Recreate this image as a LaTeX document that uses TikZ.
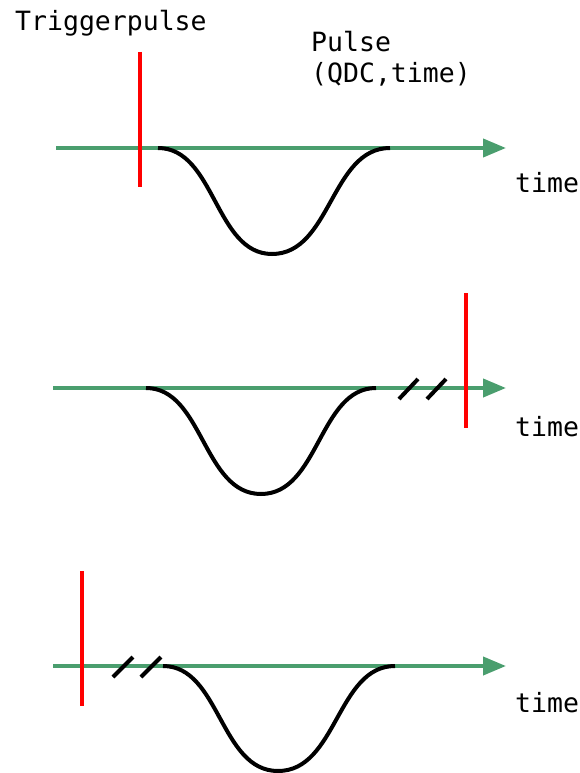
\documentclass[tikz,border=0pt]{standalone}
\usepackage{fontspec}
\setmonofont{DejaVu Sans Mono}
\usetikzlibrary{arrows.meta}
\definecolor{axisgreen}{RGB}{74,158,110}
\begin{document}
\begin{tikzpicture}[x=1pt,y=-1pt,
  axis/.style={draw=axisgreen,line width=4pt,-{Triangle[length=23pt,width=18pt]}},
  trig/.style={draw=red,line width=3.5pt},
  pulsecurve/.style={draw=black,line width=4pt},
  brk/.style={draw=black,line width=4pt},
  lbl/.style={font=\ttfamily\fontsize{26.5}{31}\selectfont,inner sep=0pt,anchor=base west,align=left}]
\useasboundingbox (0,0) rectangle (580,773);
% labels
\node[lbl] (tp) at (15,31) {Triggerpulse};
\node[lbl] (pl) at (311,83) {Pulse\\(QDC,time)};
% panel 1
\coordinate (a1s) at (56,148); \coordinate (a1e) at (506,148);
\draw[axis] (a1s) -- (a1e);
\coordinate (p1s) at (158,148); \coordinate (p1m) at (272,254); \coordinate (p1e) at (390,148);
\draw[pulsecurve] (p1s) .. controls (215,148) and (215,254) .. (p1m) .. controls (331,254) and (331,148) .. (p1e);
\coordinate (r1t) at (140,52); \coordinate (r1b) at (140,187);
\draw[trig] (r1t) -- (r1b);
\node[lbl] (t1) at (515,192) {time};
% panel 2
\coordinate (a2s) at (53,388); \coordinate (a2e) at (506,388);
\draw[axis] (a2s) -- (a2e);
\coordinate (p2s) at (146,388); \coordinate (p2m) at (261,494); \coordinate (p2e) at (376,388);
\draw[pulsecurve] (p2s) .. controls (203,388) and (203,494) .. (p2m) .. controls (319,494) and (319,388) .. (p2e);
\coordinate (b2a1) at (399,399); \coordinate (b2a2) at (418,379);
\coordinate (b2b1) at (427,399); \coordinate (b2b2) at (446,379);
\draw[brk] (b2a1) -- (b2a2);
\draw[brk] (b2b1) -- (b2b2);
\coordinate (r2t) at (466,293); \coordinate (r2b) at (466,428);
\draw[trig] (r2t) -- (r2b);
\node[lbl] (t2) at (515,436) {time};
% panel 3
\coordinate (a3s) at (53,666); \coordinate (a3e) at (506,666);
\draw[axis] (a3s) -- (a3e);
\coordinate (p3s) at (163,666); \coordinate (p3m) at (278,771); \coordinate (p3e) at (395,666);
\draw[pulsecurve] (p3s) .. controls (220,666) and (220,771) .. (p3m) .. controls (337,771) and (337,666) .. (p3e);
\coordinate (b3a1) at (113,677); \coordinate (b3a2) at (133,657);
\coordinate (b3b1) at (141,677); \coordinate (b3b2) at (161,657);
\draw[brk] (b3a1) -- (b3a2);
\draw[brk] (b3b1) -- (b3b2);
\coordinate (r3t) at (82,571); \coordinate (r3b) at (82,706);
\draw[trig] (r3t) -- (r3b);
\node[lbl] (t3) at (515,712) {time};
\end{tikzpicture}
\end{document}
